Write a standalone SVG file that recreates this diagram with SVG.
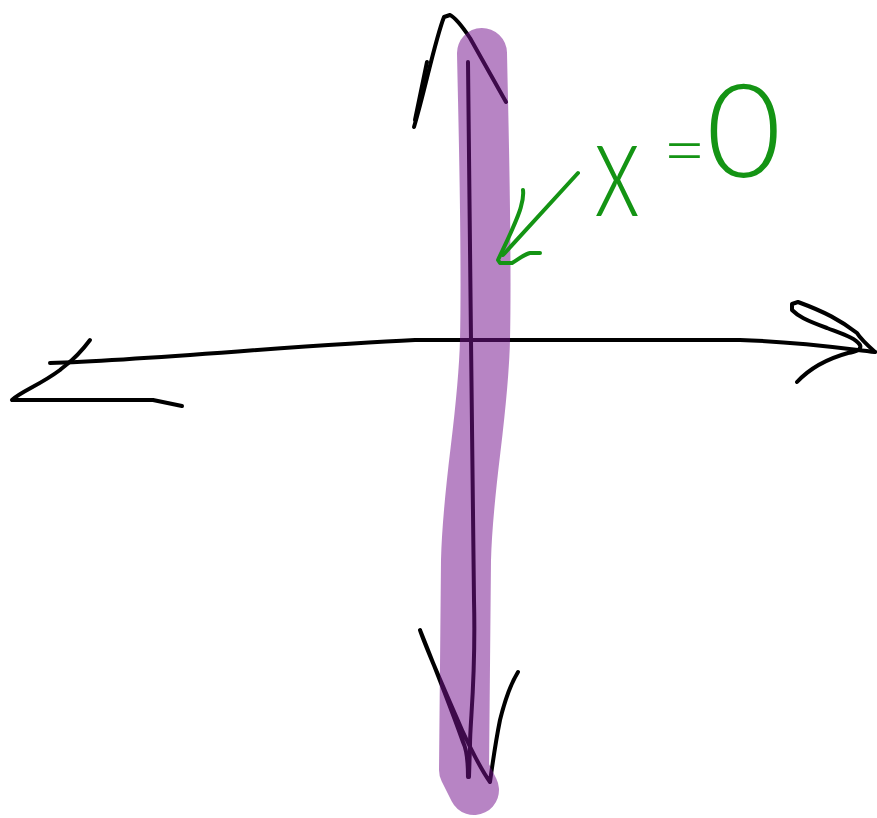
<svg xmlns="http://www.w3.org/2000/svg" width="877" height="818" viewBox="0 0 877 818">
<style>
.ink{fill:none;stroke:#000;stroke-width:4;stroke-linecap:round;stroke-linejoin:round}
.hl{fill:none;stroke:#75138e;stroke-opacity:0.52;stroke-width:50;stroke-linecap:round;stroke-linejoin:round}
.g{fill:none;stroke:#149414;stroke-width:4;stroke-linecap:round;stroke-linejoin:round}
.lbl{fill:#149414;font-family:Lato,"Liberation Sans",sans-serif;font-weight:300}
</style>
<rect width="877" height="818" fill="#fff"/>
<g id="connectors">
<g id="x-axis">
<path class="ink" d="M 50 363 C 150 360 300 345 415 340 L 740 340 C 800 342 840 348 875 352"/>
<path class="ink" d="M 90 340 C 75 360 68 363 60 370 C 40 385 20 392 12 400 L 153 400 L 182 406"/>
<path class="ink" d="M 875 352 C 865 343 860 338 857 333 C 840 320 825 312 798 302 L 792 304 L 792 310 C 798 316 805 320 827 328 C 845 335 855 338 860 345 C 862 350 855 352 848 353 C 830 358 810 368 797 382"/>
</g>
<g id="y-axis">
<path class="ink" d="M 468 62 L 471 340 L 474 600 C 476 680 470 720 470 745 L 469 777"/>
<path class="ink" d="M 414 127 C 425 90 435 40 444 17 L 450 15 C 456 18 462 26 470 38 L 506 102"/>
<path class="ink" d="M 427 62 L 415 120"/>
<path class="ink" d="M 468 777 C 468 760 467 750 463 742 C 448 700 432 660 420 630 C 425 645 440 680 462 730 C 475 758 485 775 490 782 C 493 760 496 740 500 720 C 505 700 510 685 518 672"/>
</g>
</g>
<g id="line-x0">
<path class="hl" d="M 482 53 C 484 150 487 250 485 340 C 483 420 468 480 466 560 L 464 770 L 474 790"/>
</g>
<g id="label">
<path class="g" d="M 578 173 L 503 255"/>
<path class="g" d="M 523 190 C 524 198 522 203 520 210 C 515 225 505 245 498 260 L 500 263 L 512 263 C 520 258 525 254 530 253 L 540 253"/>
<text class="lbl"><tspan x="594" y="216" font-size="140" textLength="46" lengthAdjust="spacingAndGlyphs">x</tspan><tspan x="663" y="176" font-size="74">=</tspan><tspan x="706" y="177" font-size="130">0</tspan></text>
</g>
</svg>
